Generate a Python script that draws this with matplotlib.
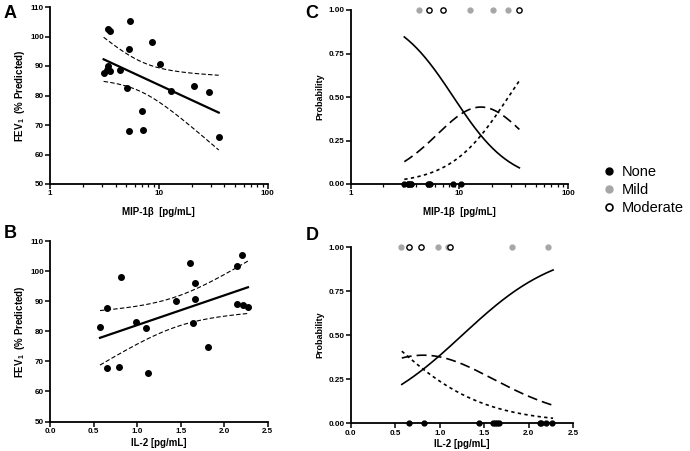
import numpy as np
import matplotlib.pyplot as plt
from matplotlib.lines import Line2D
from matplotlib.ticker import LogLocator, NullFormatter, FixedLocator

plt.rcParams['font.family'] = ['Liberation Sans', 'DejaVu Sans']
plt.rcParams['mathtext.default'] = 'regular'

# panel A: MIP-1b vs FEV1
mip = [3.11, 3.44, 3.56, 3.39, 3.37, 3.56, 4.4, 5.39, 5.28, 5.13, 5.35,
       6.95, 7.2, 8.65, 10.3, 12.8, 20.9, 28.7, 35.5]
fev_a = [87.7, 102.7, 101.8, 90.0, 88.8, 88.2, 88.6, 105.2, 95.9, 82.7, 67.8,
         74.7, 68.2, 98.1, 90.8, 81.5, 83.1, 81.1, 66.0]

# panel B: IL-2 vs FEV1
il2 = [0.574, 0.658, 0.819, 0.984, 1.099, 1.447, 1.607, 1.661, 1.661, 1.638,
       1.817, 2.143, 2.143, 2.219, 2.273, 0.658, 0.792, 1.125, 2.2]
fev_b = [81.3, 87.6, 98.1, 83.1, 81.1, 90.2, 102.6, 95.9, 90.7, 82.7,
         74.7, 101.8, 89.0, 88.6, 88.1, 67.9, 68.1, 66.0, 105.3]

# panels C/D: severity groups
mip_none = [3.11, 3.37, 3.39, 3.44, 3.56, 3.56, 5.13, 5.28, 5.39, 8.65, 10.3]
mip_mild = [4.28, 12.5, 20.4, 28.2]
mip_mod = [5.25, 7.02, 35.1]
il2_none = [0.657, 0.818, 1.437, 1.598, 1.62, 1.64, 1.66, 2.13, 2.14, 2.19, 2.26]
il2_mild = [0.563, 0.976, 1.088, 1.812, 2.214]
il2_mod = [0.657, 0.784, 1.111]

# ordinal logistic fits (cut points, slope)
mip_cuts, mip_slope = (3.55, 5.45), -3.76   # on log10 scale
il2_cuts, il2_slope = (-2.33, -0.70), 1.86

labels = ['None', 'Mild', 'Moderate']
grey = '#a6a6a6'


def style(ax):
    for s in ['top', 'right']:
        ax.spines[s].set_visible(False)
    for s in ['left', 'bottom']:
        ax.spines[s].set_linewidth(1.3)
    ax.tick_params(which='major', width=1.1, length=3.5, labelsize=5.8, pad=1)
    ax.tick_params(which='minor', width=0.9, length=2)
    for t in ax.get_xticklabels() + ax.get_yticklabels():
        t.set_fontweight('bold')


def log_axis(ax):
    ax.set_xscale('log')
    ax.set_xlim(1, 100)
    ax.xaxis.set_major_locator(FixedLocator([1, 10, 100]))
    ax.xaxis.set_major_formatter(plt.FuncFormatter(lambda v, p: '%g' % v))
    ax.xaxis.set_minor_locator(LogLocator(base=10, subs=np.arange(2, 10)))
    ax.xaxis.set_minor_formatter(NullFormatter())


def regression(ax, x, y, logx):
    x = np.asarray(x)
    y = np.asarray(y)
    t = np.log10(x) if logx else x
    n = len(t)
    b, a = np.polyfit(t, y, 1)
    res = y - (a + b * t)
    s = np.sqrt(np.sum(res ** 2) / (n - 2))
    sxx = np.sum((t - t.mean()) ** 2)
    tg = np.linspace(t.min(), t.max(), 200)
    fit = a + b * tg
    se = s * np.sqrt(1 / n + (tg - t.mean()) ** 2 / sxx)
    xg = 10 ** tg if logx else tg
    ax.plot(xg, fit, color='black', lw=1.6)
    ax.plot(xg, fit + 2.11 * se, color='black', lw=0.8, dashes=(4, 2))
    ax.plot(xg, fit - 2.11 * se, color='black', lw=0.8, dashes=(4, 2))
    ax.plot(x, y, 'o', color='black', ms=4.0, clip_on=False)


def prob_curves(ax, xmin, xmax, cuts, slope, logx):
    xg = np.geomspace(xmin, xmax, 200) if logx else np.linspace(xmin, xmax, 200)
    t = np.log10(xg) if logx else xg
    p0 = 1 / (1 + np.exp(-(cuts[0] + slope * t)))
    p1 = 1 / (1 + np.exp(-(cuts[1] + slope * t)))
    ax.plot(xg, p0, color='black', lw=1.2)
    ax.plot(xg, p1 - p0, color='black', lw=1.2, dashes=(6, 3))
    ax.plot(xg, 1 - p1, color='black', lw=1.2, dashes=(2, 2))


def rug(ax, none, mild, mod):
    ax.plot(none, np.zeros(len(none)), 'o', color='black', ms=3.5, clip_on=False)
    ax.plot(mild, np.ones(len(mild)), 'o', color=grey, ms=3.5, clip_on=False)
    ax.plot(mod, np.ones(len(mod)), 'o', mfc='white', mec='black', mew=1.0,
            ms=3.8, clip_on=False)


W, H = 690, 451
fig = plt.figure(figsize=(W / 100, H / 100), dpi=100)

axA = fig.add_axes([50 / W, 1 - 184 / H, 217.7 / W, 177 / H])
axB = fig.add_axes([50 / W, 1 - 421.5 / H, 217.7 / W, 180.5 / H])
axC = fig.add_axes([350.7 / W, 1 - 184 / H, 217.6 / W, 174 / H])
axD = fig.add_axes([350.7 / W, 1 - 423.3 / H, 222.6 / W, 176.3 / H])

# A
log_axis(axA)
regression(axA, mip, fev_a, True)
axA.set_ylim(50, 110)
axA.set_yticks(np.arange(50, 111, 10))
axA.set_xlabel('MIP-1β  [pg/mL]', fontsize=7, fontweight='bold', labelpad=7)
axA.set_ylabel('FEV$_1$  (% Predicted)', fontsize=7, fontweight='bold')
axA.yaxis.set_label_coords(-0.105, 0.5)

# B
regression(axB, il2, fev_b, False)
axB.set_xlim(0, 2.5)
axB.set_xticks(np.arange(0, 2.51, 0.5))
axB.xaxis.set_major_formatter(plt.FuncFormatter(lambda v, p: '%.1f' % v))
axB.set_ylim(50, 110)
axB.set_yticks(np.arange(50, 111, 10))
axB.set_xlabel('IL-2 [pg/mL]', fontsize=7, fontweight='bold', labelpad=2)
axB.set_ylabel('FEV$_1$  (% Predicted)', fontsize=7, fontweight='bold')
axB.yaxis.set_label_coords(-0.105, 0.5)

# C
log_axis(axC)
prob_curves(axC, min(mip), max(mip), mip_cuts, mip_slope, True)
rug(axC, mip_none, mip_mild, mip_mod)
axC.set_ylim(0, 1)
axC.set_yticks([0, 0.25, 0.5, 0.75, 1.0])
axC.yaxis.set_major_formatter(plt.FuncFormatter(lambda v, p: '%.2f' % v))
axC.set_xlabel('MIP-1β  [pg/mL]', fontsize=7, fontweight='bold', labelpad=7)
axC.set_ylabel('Probability', fontsize=6.5, fontweight='bold')
axC.yaxis.set_label_coords(-0.12, 0.5)

# D
prob_curves(axD, min(il2), max(il2), il2_cuts, il2_slope, False)
rug(axD, il2_none, il2_mild, il2_mod)
axD.set_xlim(0, 2.5)
axD.set_xticks(np.arange(0, 2.51, 0.5))
axD.xaxis.set_major_formatter(plt.FuncFormatter(lambda v, p: '%.1f' % v))
axD.set_ylim(0, 1)
axD.set_yticks([0, 0.25, 0.5, 0.75, 1.0])
axD.yaxis.set_major_formatter(plt.FuncFormatter(lambda v, p: '%.2f' % v))
axD.set_xlabel('IL-2 [pg/mL]', fontsize=7, fontweight='bold', labelpad=2)
axD.set_ylabel('Probability', fontsize=6.5, fontweight='bold')
axD.yaxis.set_label_coords(-0.12, 0.5)

for ax in (axA, axB, axC, axD):
    style(ax)

for letter, x, y in [('A', 10, 13), ('B', 10, 233), ('C', 312, 13), ('D', 312, 236)]:
    fig.text(x / W, 1 - y / H, letter, fontsize=13, fontweight='bold',
             ha='center', va='center')

handles = [
    Line2D([], [], ls='', marker='o', color='black', ms=5),
    Line2D([], [], ls='', marker='o', color=grey, ms=5),
    Line2D([], [], ls='', marker='o', mfc='white', mec='black', mew=1.2, ms=5),
]
fig.legend(handles, labels, loc='center left', bbox_to_anchor=(594 / W, 1 - 190 / H),
           frameon=False, fontsize=10.5, handletextpad=0.3, labelspacing=0.25,
           handlelength=1.2, borderaxespad=0)

fig.savefig('out.png', dpi=100)
